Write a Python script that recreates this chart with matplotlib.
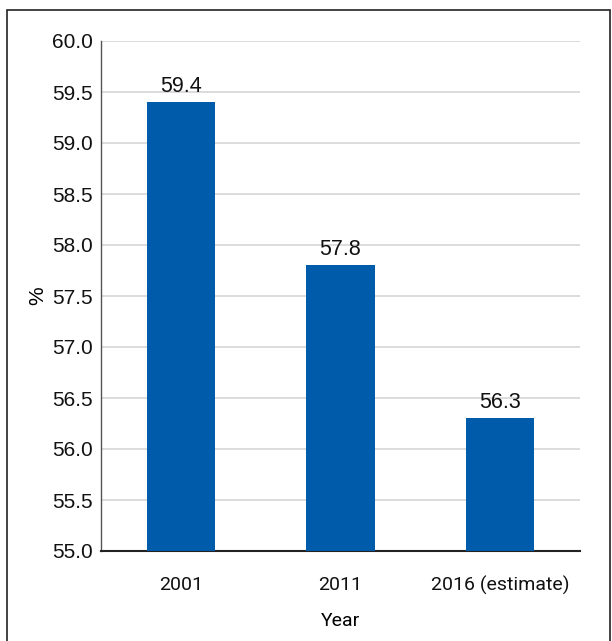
import matplotlib.pyplot as plt
from matplotlib.patches import Rectangle

years = ["2001", "2011", "2016 (estimate)"]
values = [59.4, 57.8, 56.3]
yticks = [55.0, 55.5, 56.0, 56.5, 57.0, 57.5, 58.0, 58.5, 59.0, 59.5, 60.0]

bar_color = "#005BAA"
narrow = ["Roboto", "DejaVu Sans"]

fig = plt.figure(figsize=(6.12, 6.41), dpi=100)
ax = fig.add_axes([101 / 612, 1 - 551 / 641, 479 / 612, 510 / 641])

x = range(len(years))
bars = ax.bar(x, values, width=0.426, bottom=0, color=bar_color, zorder=3)
ax.set_ylim(55.0, 60.0)
ax.set_xlim(-0.5, 2.5)

for i, v in enumerate(values):
    ax.text(i, v + 0.05, f"{v:.1f}", ha="center", va="bottom",
            fontsize=15.5, family="Liberation Sans", color="#111111")

ax.set_yticks(yticks)
ax.set_yticklabels([f"{t:.1f}" for t in yticks], fontsize=15,
                   family="Liberation Sans", color="#111111")
ax.set_xticks(list(x))
ax.set_xticklabels(years, fontsize=14, family=narrow, color="#111111")
ax.tick_params(axis="both", length=0)
ax.tick_params(axis="y", pad=6)
ax.tick_params(axis="x", pad=18)

ax.grid(axis="y", color="#d6d6d6", linewidth=1.2, zorder=0)
for s in ["top", "right"]:
    ax.spines[s].set_visible(False)
ax.spines["left"].set_color("#555555")
ax.spines["left"].set_linewidth(1.0)
ax.spines["bottom"].set_color("#222222")
ax.spines["bottom"].set_linewidth(1.5)

ax.set_xlabel("Year", fontsize=14, family=narrow, labelpad=12)
ax.set_ylabel("%", fontsize=15, family="Liberation Sans", labelpad=3)

# outer frame
fig.patches.append(Rectangle((7 / 612, -0.05), 603 / 612, 1 - 10 / 641 + 0.05,
                             transform=fig.transFigure, fill=False,
                             edgecolor="#222222", linewidth=1.2))

fig.savefig("out.png", dpi=100)
